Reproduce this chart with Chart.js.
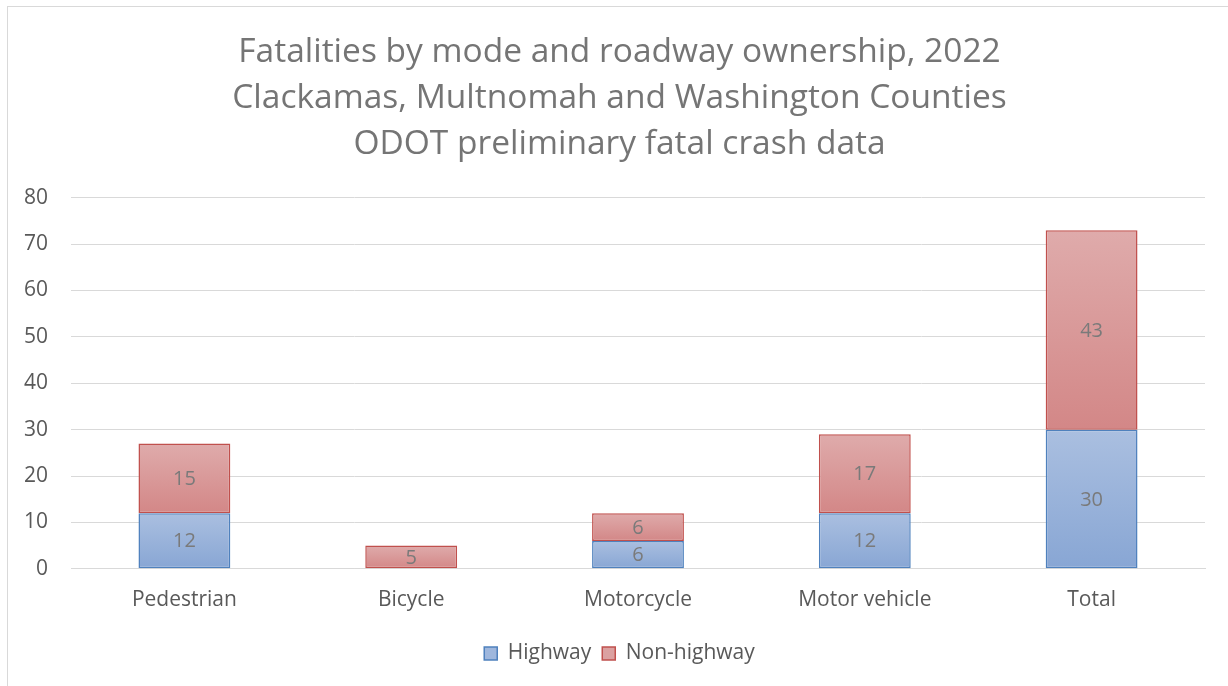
<!DOCTYPE html>
<html>
<head>
<meta charset="utf-8">
<title>Fatalities by mode and roadway ownership, 2022</title>
<script src="https://cdn.jsdelivr.net/npm/chart.js@4/dist/chart.umd.min.js"></script>
<style>
    html, body { margin: 0; padding: 0; background: #fff; overflow: hidden; }
    .frame {
        position: absolute; left: 7px; top: 6px; width: 1240px; height: 700px;
        border-left: 1px solid #d9d9d9; border-top: 1px solid #d9d9d9;
    }
    .wrap { position: absolute; left: 0; top: 0; width: 1228px; height: 686px; }
</style>
</head>
<body>
<div class="frame"></div>
<div class="wrap"><canvas id="fatalChart"></canvas></div>
<script>
// Data
const categories = ['Pedestrian', 'Bicycle', 'Motorcycle', 'Motor vehicle', 'Total'];
const highway = [12, 0, 6, 12, 30];
const nonHighway = [15, 5, 6, 17, 43];
const yTicks = [0, 10, 20, 30, 40, 50, 60, 70, 80];
const titleLines = [
    'Fatalities by mode and roadway ownership, 2022',
    'Clackamas, Multnomah and Washington Counties',
    'ODOT preliminary fatal crash data'
];

const FONT = '"Open Sans", "DejaVu Sans", sans-serif';
const GRAY = '#595959';

// per-bar vertical gradient, light on top, darker at the bottom
function barFill(lo, hi, topColor, bottomColor) {
    return function(ctx) {
        const chart = ctx.chart;
        const y = chart.scales.y;
        if (!y || ctx.type !== 'data') return bottomColor;
        const i = ctx.dataIndex;
        const top = y.getPixelForValue(hi[i]);
        const bottom = y.getPixelForValue(lo[i]);
        if (!isFinite(top) || !isFinite(bottom) || top === bottom) return bottomColor;
        const g = chart.ctx.createLinearGradient(0, top, 0, bottom);
        g.addColorStop(0, topColor);
        g.addColorStop(1, bottomColor);
        return g;
    };
}

const zeros = highway.map(() => 0);
const stackTop = highway.map((v, i) => v + nonHighway[i]);

// simple value labels in the middle of each segment
const valueLabels = {
    id: 'valueLabels',
    afterDatasetsDraw(chart) {
        const ctx = chart.ctx;
        ctx.save();
        ctx.font = '20px ' + FONT;
        ctx.fillStyle = '#7a7a7a';
        ctx.textAlign = 'center';
        ctx.textBaseline = 'middle';
        chart.data.datasets.forEach((ds, di) => {
            const meta = chart.getDatasetMeta(di);
            meta.data.forEach((bar, i) => {
                const v = ds.data[i];
                if (!v) return;
                ctx.fillText(String(v), bar.x, (bar.y + bar.base) / 2 + 1);
            });
        });
        ctx.restore();
    }
};

// title and legend are centred on the whole frame, not on the plot
const centreBlocks = {
    id: 'centreBlocks',
    afterLayout(chart) {
        if (chart.titleBlock) chart.titleBlock.left += 34;
        if (chart.legend) chart.legend.left += 34;
    }
};

new Chart(document.getElementById('fatalChart'), {
    type: 'bar',
    data: {
        labels: categories,
        datasets: [
            {
                label: 'Highway',
                data: highway,
                backgroundColor: barFill(zeros, highway, '#aabfe0', '#88a6d4'),
                borderColor: '#4f81bd',
                borderWidth: ctx => (ctx.raw ? 1.5 : 0),
                borderSkipped: false,
                legendFill: '#9fb7dd'
            },
            {
                label: 'Non-highway',
                data: nonHighway,
                backgroundColor: barFill(highway, stackTop, '#dfabab', '#d38787'),
                borderColor: '#c0504d',
                borderWidth: 1.5,
                borderSkipped: false,
                legendFill: '#dba1a1'
            }
        ]
    },
    options: {
        responsive: true,
        maintainAspectRatio: false,
        animation: false,
        layout: {
            padding: { left: 0, right: 23, top: 0, bottom: 12 }
        },
        datasets: {
            bar: { categoryPercentage: 1, barPercentage: 0.405 }
        },
        plugins: {
            title: {
                display: true,
                text: titleLines,
                color: '#757575',
                font: { family: FONT, size: 33.5, weight: 'normal', lineHeight: 1.38 },
                padding: { top: 29, bottom: 30 }
            },
            legend: {
                position: 'bottom',
                padding: 0,
                labels: {
                    color: GRAY,
                    font: { family: FONT, size: 21 },
                    boxWidth: 13,
                    boxHeight: 13,
                    padding: 11,
                    generateLabels(chart) {
                        return chart.data.datasets.map((ds, i) => ({
                            text: ds.label,
                            fillStyle: ds.legendFill,
                            strokeStyle: ds.borderColor,
                            lineWidth: 1.5,
                            fontColor: GRAY,
                            hidden: false,
                            datasetIndex: i
                        }));
                    }
                }
            },
            tooltip: { enabled: false }
        },
        scales: {
            x: {
                stacked: true,
                grid: { display: false, drawTicks: false },
                border: { display: true, color: '#d9d9d9', width: 1 },
                ticks: { color: GRAY, font: { family: FONT, size: 21 }, padding: 19 }
            },
            y: {
                stacked: true,
                min: yTicks[0],
                max: yTicks[yTicks.length - 1],
                afterBuildTicks(scale) {
                    scale.ticks = yTicks.map(v => ({ value: v }));
                },
                afterFit(scale) {
                    scale.width = 71;
                },
                grid: { color: '#d9d9d9', lineWidth: 1, drawTicks: false },
                border: { display: false },
                ticks: { color: GRAY, font: { family: FONT, size: 21 }, padding: 23 }
            }
        }
    },
    plugins: [valueLabels, centreBlocks]
});
</script>
</body>
</html>
